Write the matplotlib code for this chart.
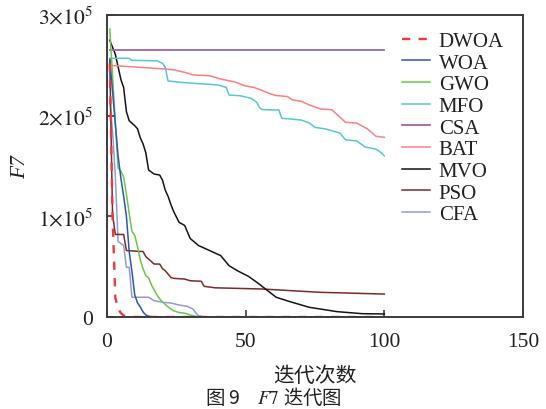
import matplotlib
matplotlib.use("Agg")
import matplotlib.pyplot as plt

plt.rcParams["font.family"] = ["Liberation Serif", "DejaVu Serif"]
plt.rcParams["mathtext.fontset"] = "stix"

# Convergence curves of F7 (fitness values in units of 1e3), given as
# (iteration, best fitness) breakpoints for each algorithm.
dwoa_it = [1, 2, 3, 4, 5, 6, 7, 8, 100]
dwoa_val = [252, 100, 19, 8, 4, 1.5, 0.3, 0, 0]

woa_it = [1, 2, 3, 4, 5, 6, 7, 8, 9, 10, 11, 12, 13, 14, 15, 16, 18, 100]
woa_val = [256, 224, 192, 160, 138, 120, 100, 65, 45, 22, 14, 10, 5, 2, 0.8, 0.3, 0, 0]

gwo_it = [1, 2, 3, 4, 5, 6, 7, 8, 9, 10, 11, 12, 13, 14, 15, 16, 17, 18, 19,
          20, 21, 22, 23, 24, 26, 28, 30, 32, 35, 100]
gwo_val = [286, 240, 193, 148, 145, 139, 122, 103, 85, 81, 70, 57, 48, 41, 39,
           32, 27, 22, 18, 15, 12.5, 10, 8, 6.2, 4.5, 3.8, 2.0, 0.7, 0, 0]

mfo_it = [1, 8, 9, 18, 20, 21, 22, 27, 40, 43, 44, 48, 52, 54, 55, 56, 62, 63,
          70, 73, 75, 79, 84, 86, 90, 93, 94, 97, 99, 100]
mfo_val = [257, 257, 255, 254.5, 252, 248, 234.5, 233, 230.5, 228, 220.5,
           219.8, 217.2, 213.3, 208, 206, 205.6, 197.4, 195.7, 192.7, 188.4,
           186.7, 182.7, 176, 175, 169, 168.4, 166.7, 163, 160]

csa_it = [1, 100]
csa_val = [265, 265]

bat_it = [1, 12, 20, 24, 28, 31, 37, 41, 46, 50, 53, 56, 59, 61, 65, 67, 70,
          73, 77, 81, 86, 90, 94, 97, 100]
bat_val = [250, 248, 246.5, 245.6, 243, 240.5, 239.7, 236.4, 233.5, 229.5,
           228, 225, 221.5, 220, 219, 215.6, 214.3, 210.6, 206.6, 206, 193.4,
           192.7, 186.7, 179.5, 178.5]

mvo_it = [1, 3, 5, 6, 7, 8, 10, 11, 12, 13, 14, 15, 16, 17, 19, 20, 21, 22,
          23, 24, 26, 28, 30, 33, 37, 41, 44, 47, 51, 54, 58, 61, 66, 73, 83,
          92, 100]
mvo_val = [275, 261, 236, 228, 204, 195, 190, 187, 178, 172, 163, 146, 144,
           142, 141, 136, 126, 120, 112, 105, 94, 91, 78, 71, 66, 61, 51, 46,
           40.4, 34.5, 26, 19.6, 15.2, 9.6, 5.3, 3.3, 3.0]

pso_it = [1, 2, 3, 6, 7, 13, 14, 15, 17, 19, 20, 21, 22, 23, 24, 28, 30, 34,
          35, 39, 56, 77, 100]
pso_val = [255, 102, 82, 82, 66, 65, 60, 57.6, 52.6, 52.6, 48, 46, 42.7, 39.4,
           38.4, 37.7, 36, 35.5, 30.5, 29, 27.8, 24.5, 22.8]

cfa_it = [1, 2, 3, 4, 6, 7, 8, 9, 15, 17, 20, 23, 26, 29, 31, 32, 33, 35, 100]
cfa_val = [215, 185, 140, 75, 71, 49.4, 49.4, 19.6, 19.6, 16.2, 14.6, 13.9,
           11.9, 10.6, 7.9, 4, 1.3, 0, 0]

scale = 1e3

series = [
    ("DWOA", dwoa_it, dwoa_val, "#f03a3a", (0, (3.5, 3.5)), 1.7),
    ("WOA", woa_it, woa_val, "#2a58b8", "-", 1.1),
    ("GWO", gwo_it, gwo_val, "#6cc64a", "-", 1.1),
    ("MFO", mfo_it, mfo_val, "#58c6d6", "-", 1.1),
    ("CSA", csa_it, csa_val, "#a063ad", "-", 1.3),
    ("BAT", bat_it, bat_val, "#ff7f7f", "-", 1.1),
    ("MVO", mvo_it, mvo_val, "#151515", "-", 1.1),
    ("PSO", pso_it, pso_val, "#7d2a2a", "-", 1.1),
    ("CFA", cfa_it, cfa_val, "#939ad8", "-", 1.1),
]

yticks = [0, 1e5, 2e5, 3e5]
ytick_labels = ["0", r"$1{\times}10^5$", r"$2{\times}10^5$", r"$3{\times}10^5$"]
xticks = [0, 50, 100, 150]

fig = plt.figure(figsize=(5.46, 4.10), dpi=100)
ax = fig.add_axes([107 / 546, 1 - 318 / 410, (523 - 107) / 546, (318 - 16) / 410])

# Draw in reverse so DWOA ends up on top
for name, it, val, color, ls, lw in reversed(series):
    ax.plot(it, [v * scale for v in val], color=color, linestyle=ls, lw=lw,
            label=name)

ax.set_xlim(0, 150)
ax.set_ylim(0, 3e5)
ax.set_xticks(xticks)
ax.set_yticks(yticks)
ax.set_yticklabels(ytick_labels)

for side in ["left", "bottom", "right", "top"]:
    ax.spines[side].set_color("#3c3c3c")
    ax.spines[side].set_linewidth(1.4)

ax.tick_params(axis="both", direction="in", length=5, width=1.2,
               color="#3c3c3c", labelsize=15.5, labelcolor="#222222")
ax.tick_params(axis="x", pad=11)
ax.tick_params(axis="y", pad=10)

ax.set_ylabel("F7", fontsize=15.5, style="italic", labelpad=6, color="#222222")
ax.set_xlabel("迭代次数", fontsize=15, family=["Noto Sans CJK SC", "DejaVu Sans"],
              labelpad=9, color="#222222")

handles, labels = ax.get_legend_handles_labels()
order = list(reversed(range(len(handles))))
leg = ax.legend([handles[i] for i in order], [labels[i] for i in order],
                loc="upper left", bbox_to_anchor=(0.69, 0.973), frameon=False,
                fontsize=15, handlelength=1.35, handletextpad=0.4,
                labelspacing=0.1, borderaxespad=0.0)
for t in leg.get_texts():
    t.set_color("#222222")

fig.text(0.5, 1 / 410, "图 9    $\\mathit{F7}$ 迭代图", ha="center", va="bottom",
         fontsize=14, family=["Noto Sans CJK SC", "DejaVu Sans"], color="#222222")

fig.savefig("out.png", dpi=100)
